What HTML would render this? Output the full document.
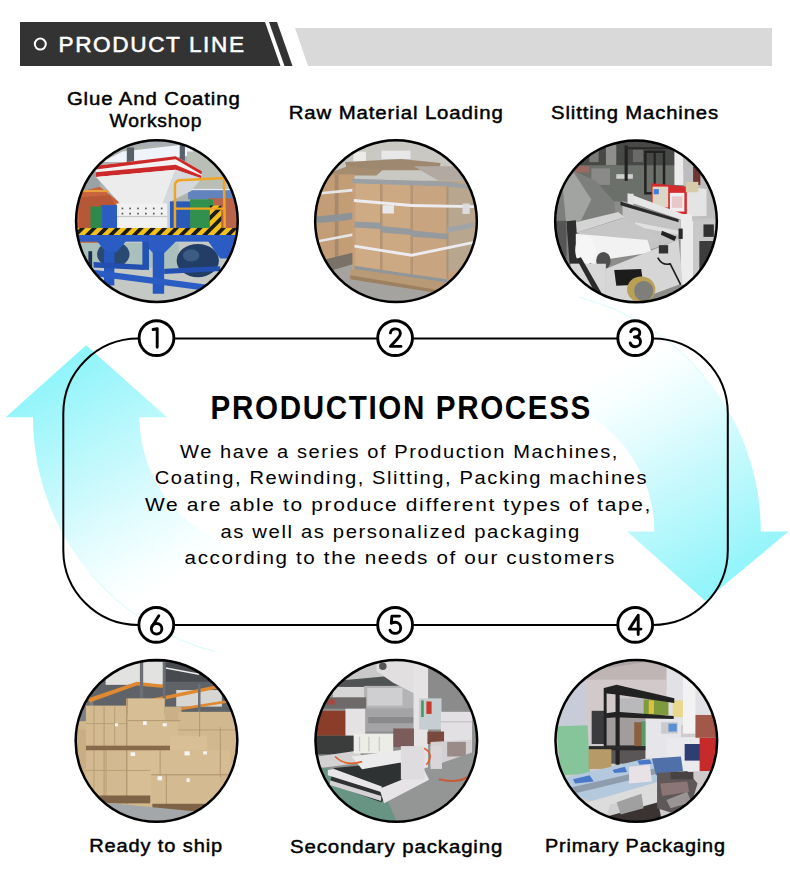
<!DOCTYPE html>
<html><head><meta charset="utf-8">
<style>
html,body{margin:0;padding:0;background:#fff;}
body{width:790px;height:892px;position:relative;overflow:hidden;font-family:"Liberation Sans",sans-serif;}
svg{position:absolute;left:0;top:0;}
</style></head>
<body>
<svg width="790" height="892" viewBox="0 0 790 892">
<defs>
  <linearGradient id="gl" gradientUnits="userSpaceOnUse" x1="86" y1="350" x2="205" y2="565">
    <stop offset="0" stop-color="#8ef5fb"/>
    <stop offset="0.08" stop-color="#97f5fa"/>
    <stop offset="0.35" stop-color="#b8f8fc"/>
    <stop offset="0.48" stop-color="#c8f9fc"/>
    <stop offset="0.7" stop-color="#e3fcfe"/>
    <stop offset="0.9" stop-color="#f8ffff"/>
    <stop offset="1" stop-color="#ffffff"/>
  </linearGradient>
  <linearGradient id="gr" gradientUnits="userSpaceOnUse" x1="708" y1="598.9" x2="589" y2="383.9">
    <stop offset="0" stop-color="#8ef5fb"/>
    <stop offset="0.08" stop-color="#97f5fa"/>
    <stop offset="0.35" stop-color="#b8f8fc"/>
    <stop offset="0.48" stop-color="#c8f9fc"/>
    <stop offset="0.7" stop-color="#e3fcfe"/>
    <stop offset="0.9" stop-color="#f8ffff"/>
    <stop offset="1" stop-color="#ffffff"/>
  </linearGradient>
  <filter id="bl" x="-5%" y="-5%" width="110%" height="110%"><feGaussianBlur stdDeviation="3"/></filter>
  <clipPath id="cc"><circle cx="395" cy="395" r="390"/></clipPath>
  <pattern id="hz" width="40" height="40" patternUnits="userSpaceOnUse" patternTransform="rotate(45)">
    <rect width="40" height="40" fill="#f2c21e"/><rect width="18" height="40" fill="#1a1a1a"/>
  </pattern>
</defs>
<!-- header -->
<polygon points="20,22 265,22 280.5,66 20,66" fill="#333333"/>
<polygon points="269,22 277,22 292.5,66 284.5,66" fill="#333333"/>
<polygon points="295,28 772,28 772,66 308,66" fill="#d9d9d9"/>
<circle cx="40.3" cy="44.1" r="5.5" fill="none" stroke="#fff" stroke-width="2"/>
<text x="58.5" y="52.3" font-size="22.6" fill="#fff" stroke="#fff" stroke-width="0.55" textLength="185.5" lengthAdjust="spacing">PRODUCT LINE</text>

<!-- arrows -->
<path id="arL" d="M86.1,345.3 L167,417.3 L139.4,417.3 A135.6,135.6 0 0 0 275,552.9 L275,659.3 A242,242 0 0 1 33,417.3 L5.7,417.3 Z" fill="url(#gl)"/>
<path d="M705.2,601.1 L627.1,531.6 L654.4,531.6 A135.4,135.4 0 0 0 519,396.2 L519,289.8 A241.8,241.8 0 0 1 760.8,531.6 L788.4,531.6 Z" fill="url(#gr)"/>

<path d="M215,651.7 A242,242 0 0 1 90,573" fill="none" stroke="#d6fbfd" stroke-width="1"/>
<path d="M579,297.2 A241.8,241.8 0 0 1 704,376" fill="none" stroke="#d6fbfd" stroke-width="1"/>
<!-- path -->
<rect x="63.3" y="338.5" width="664.5" height="286.4" rx="75" ry="75" fill="none" stroke="#000" stroke-width="2"/>

<!-- number circles -->
<g fill="#fff" stroke="#000" stroke-width="2.9">
<circle cx="156.5" cy="338.1" r="17.4"/>
<circle cx="395.1" cy="338.1" r="17.4"/>
<circle cx="635.2" cy="338.1" r="17.4"/>
<circle cx="156.3" cy="624.9" r="17.4"/>
<circle cx="395.1" cy="624.9" r="17.4"/>
<circle cx="635.2" cy="624.9" r="17.4"/>
</g>
<g fill="none" stroke="#000" stroke-width="2.9" stroke-linecap="round" stroke-linejoin="round">
<path transform="translate(156.5,338.1)" d="M-3.4,-8.6 L0.7,-9.3 L0.7,9.2"/>
<path transform="translate(395.1,338.1)" d="M-4.7,-5.2 C-4.2,-8.2 -1.5,-9.2 0.4,-9.2 C3.2,-9.2 5.3,-7.3 5.3,-4.6 C5.3,-2.6 4,-1.2 2.6,0.3 L-4.7,8.3 L5.9,8.3"/>
<path transform="translate(635.2,338.1)" d="M-4.5,-6.4 C-3.8,-8.4 -2,-9.4 0,-9.4 C2.8,-9.4 4.6,-7.6 4.6,-5.3 C4.6,-2.8 2.6,-1.1 -0.8,-1.1 C3,-1.1 5.3,0.8 5.3,3.6 C5.3,6.5 3,8.6 0,8.6 C-2.4,8.6 -4.3,7.3 -5,4.9"/>
<path transform="translate(635.2,624.9)" d="M3,9.6 L3,-9.6 L-6,4.2 L5.8,4.2"/>
<path transform="translate(395.1,624.9)" d="M4.4,-8.8 L-3.2,-8.8 L-3.8,-1.6 C-2.8,-2.3 -1.3,-2.6 0,-2.6 C3.3,-2.6 5.6,-0.2 5.6,3 C5.6,6.2 3.1,8.5 0,8.5 C-2.3,8.5 -4.3,7.2 -5.1,5.3"/>
<path transform="translate(156.3,624.9)" d="M2.5,-9.1 L-4.3,1.6"/>
<circle transform="translate(156.3,624.9)" cx="0.3" cy="3.9" r="5.3"/>
</g>

<!-- photo circles -->
<g transform="translate(74.9,139.1) scale(0.207595)">
<g clip-path="url(#cc)"><g filter="url(#bl)"><rect width="790" height="790" fill="#c8ccd0"/>
<!-- ceiling / building -->
<rect x="0" y="0" width="790" height="300" fill="#a9b0b5"/>
<polygon points="100,40 790,20 790,300 0,300 0,150" fill="#aeb3ad"/>
<polygon points="130,110 230,60 540,25 570,60 560,80 240,110" fill="#eef4fa"/>
<rect x="250" y="40" width="35" height="75" fill="#59606a"/>
<rect x="505" y="25" width="25" height="80" fill="#59606a"/>
<rect x="540" y="60" width="250" height="190" fill="#b9bfb6"/>
<rect x="545" y="245" width="245" height="45" fill="#6383bd"/><rect x="545" y="240" width="245" height="6" fill="#e8ecf0"/>
<rect x="0" y="150" width="120" height="130" fill="#9aa2a6"/>
<!-- left orange machinery -->
<polygon points="0,260 120,230 210,300 215,430 200,500 0,500" fill="#c9643c"/>
<polygon points="20,280 170,270 200,330 190,430 20,430" fill="#b65838"/>
<rect x="40" y="245" width="150" height="10" fill="#e8a040"/>
<!-- right orange background -->
<rect x="640" y="285" width="150" height="160" fill="#b8654c"/>
<!-- hopper rim -->
<polygon points="100,128 485,83 612,155 610,190 485,150 100,185" fill="#f2f2f2"/>
<polygon points="102,128 485,83 612,155 610,170 485,97 102,146" fill="#cc2a2a"/>
<polygon points="100,160 485,124 610,176 608,190 485,148 100,183" fill="#cc2a2a"/>
<polygon points="102,182 485,148 420,320 228,322" fill="#ececec"/>
<polygon points="485,148 610,188 560,250 420,320" fill="#d6d9dc"/>
<!-- machine body -->
<rect x="200" y="310" width="245" height="125" fill="#f1f1f1"/>
<rect x="200" y="370" width="245" height="6" fill="#c8c8c8"/>
<g fill="#555">
<rect x="225" y="330" width="8" height="8"/><rect x="262" y="330" width="8" height="8"/><rect x="300" y="330" width="8" height="8"/><rect x="338" y="330" width="8" height="8"/><rect x="376" y="330" width="8" height="8"/><rect x="414" y="330" width="8" height="8"/>
<rect x="225" y="355" width="8" height="8"/><rect x="262" y="355" width="8" height="8"/><rect x="300" y="355" width="8" height="8"/><rect x="338" y="355" width="8" height="8"/><rect x="376" y="355" width="8" height="8"/><rect x="414" y="355" width="8" height="8"/>
</g>
<rect x="125" y="318" width="78" height="115" fill="#2c5cc2"/>
<rect x="458" y="300" width="100" height="135" fill="#2b5ab8"/>
<rect x="75" y="325" width="55" height="108" fill="#2f8a4b"/>
<rect x="555" y="290" width="110" height="145" fill="#30904f"/>
<rect x="650" y="320" width="55" height="120" fill="url(#hz)"/>
<!-- railing -->
<path d="M482,440 L482,225 Q482,200 505,198 L718,188 L722,440" fill="none" stroke="#f0a523" stroke-width="12"/>
<path d="M482,335 L720,335" fill="none" stroke="#f0a523" stroke-width="10"/>
<!-- hazard band -->
<rect x="0" y="428" width="790" height="40" fill="url(#hz)"/>
<!-- floor -->
<rect x="0" y="500" width="790" height="290" fill="#c5c9c6"/>
<rect x="0" y="500" width="500" height="120" fill="#a9c0bc"/>
<!-- motors -->
<ellipse cx="185" cy="555" rx="78" ry="62" fill="#2b4a72"/>
<ellipse cx="592" cy="585" rx="102" ry="80" fill="#243e66"/>
<ellipse cx="560" cy="560" rx="40" ry="30" fill="#3a5a84"/>
<!-- blue frame -->
<rect x="10" y="462" width="780" height="32" fill="#2a5cc4"/>
<polygon points="105,490 248,490 200,545 150,545" fill="#2a5cc4"/>
<polygon points="320,490 490,490 432,548 375,548" fill="#2a5cc4"/>
<polygon points="640,490 790,490 748,575 700,575" fill="#2a5cc4"/>
<rect x="140" y="540" width="50" height="165" fill="#2858c0"/>
<rect x="375" y="540" width="55" height="205" fill="#2858c0"/>
<rect x="325" y="495" width="32" height="135" fill="#2352b0"/>
<polygon points="90,592 330,605 330,630 90,618" fill="#2350b0"/>
<polygon points="80,628 640,702 640,732 80,658" fill="#2a5cc4"/>
<polygon points="430,625 700,612 700,635 430,650" fill="#2350b0"/>
<rect x="65" y="540" width="18" height="80" fill="#1e2e50"/>
</g></g>
<circle cx="395" cy="395" r="389.5" fill="none" stroke="#000" stroke-width="12"/>
</g>
<g transform="translate(314.0,139.2) scale(0.207595)">
<g clip-path="url(#cc)"><g filter="url(#bl)"><rect width="790" height="790" fill="#b8a58a"/>
<rect x="0" y="0" width="790" height="200" fill="#c9c8c3"/>
<rect x="190" y="60" width="60" height="50" fill="#ecebea"/>
<rect x="325" y="55" width="140" height="40" fill="#e8e8e8"/>
<rect x="0" y="590" width="790" height="200" fill="#a4a3a0"/>
<!-- top cardboard -->
<polygon points="150,110 420,95 610,115 600,150 160,150" fill="#9e8870"/>
<polygon points="80,160 160,130 330,150 300,175 90,175" fill="#a58d72"/>
<polygon points="480,130 700,130 760,200 600,200" fill="#b2aaa2"/>
<!-- left back cylinders -->
<rect x="10" y="170" width="185" height="420" fill="#c39d76"/>
<rect x="100" y="170" width="18" height="400" fill="#a9896a"/>
<polygon points="10,372 120,362 195,352 195,385 120,395 10,405" fill="#8e9397"/>
<polygon points="20,255 195,238 195,252 20,268" fill="#e6e6e6"/>
<polygon points="20,485 195,452 195,465 20,498" fill="#e6e6e6"/>
<polygon points="10,590 195,545 195,600 60,640" fill="#7a7268"/>
<!-- front cylinders -->
<polygon points="185,195 650,210 760,230 770,640 650,680 185,640" fill="#c6a07a"/>
<rect x="200" y="200" width="120" height="430" fill="#cfab85"/>
<rect x="330" y="210" width="135" height="440" fill="#cca883"/>
<rect x="475" y="220" width="165" height="460" fill="#c9a480"/>
<rect x="645" y="215" width="125" height="420" fill="#b9a68f"/>
<rect x="318" y="205" width="12" height="450" fill="#b39474"/>
<rect x="465" y="215" width="12" height="460" fill="#b39474"/>
<rect x="638" y="215" width="10" height="460" fill="#ab9478"/>
<!-- tops rims -->
<polygon points="185,190 650,205 760,225 760,240 650,228 185,212" fill="#9aa0a3"/>
<!-- silver bands -->
<polygon points="195,396 322,402 322,432 195,425" fill="#949a9e"/>
<polygon points="322,418 470,432 470,462 322,450" fill="#949a9e"/>
<polygon points="470,440 640,455 640,482 470,470" fill="#949a9e"/>
<polygon points="640,425 770,400 770,425 640,452" fill="#a0a4a6"/>
<!-- straps -->
<polygon points="192,288 470,312 770,318 770,332 470,326 192,302" fill="#ececf0"/>
<polygon points="195,508 470,552 770,490 770,504 470,566 195,522" fill="#ececf0"/>
<rect x="330" y="318" width="55" height="40" fill="#e8e8ea"/>
<rect x="715" y="310" width="35" height="50" fill="#dcdcde"/>
<!-- bottom rims -->
<polygon points="195,610 330,630 470,650 640,675 640,690 470,668 330,650 195,630" fill="#8f9599"/>
<!-- pallet -->
<polygon points="175,630 195,625 470,665 640,690 620,745 175,665" fill="#b99a76"/>
<polygon points="175,655 620,730 615,745 175,675" fill="#9c805f"/>
</g></g>
<circle cx="395" cy="395" r="389.5" fill="none" stroke="#000" stroke-width="12"/>
</g>
<g transform="translate(554.0,139.3) scale(0.207595)">
<g clip-path="url(#cc)"><g filter="url(#bl)"><rect width="790" height="790" fill="#9a9a9a"/>
<rect x="0" y="0" width="790" height="790" fill="#8c8d8b"/>
<!-- top background -->
<rect x="0" y="0" width="790" height="150" fill="#474847"/>
<rect x="250" y="25" width="50" height="100" fill="#8e8e8c"/>
<rect x="170" y="40" width="45" height="70" fill="#7a7a78"/>
<rect x="380" y="50" width="50" height="60" fill="#6a6a68"/>
<rect x="0" y="125" width="600" height="175" fill="#6c6f6a"/>
<rect x="90" y="130" width="80" height="30" fill="#9a6a62"/>
<rect x="180" y="140" width="90" height="80" fill="#8a8a88"/>
<rect x="300" y="168" width="80" height="22" fill="#cfcfcf"/>
<rect x="340" y="30" width="15" height="170" fill="#222"/>
<rect x="440" y="60" width="90" height="200" fill="none" stroke="#232323" stroke-width="12"/>
<rect x="480" y="60" width="10" height="200" fill="#232323"/>
<rect x="345" y="38" width="240" height="10" fill="#2a2a2a"/>
<rect x="580" y="55" width="45" height="165" fill="#ebebeb"/>
<rect x="625" y="80" width="165" height="320" fill="#bdbdbd"/>
<rect x="670" y="130" width="35" height="90" fill="#6e3434"/>
<!-- left plastic -->
<polygon points="0,170 90,150 200,200 290,300 300,400 240,560 0,600" fill="#7d7f7d"/>
<polygon points="40,210 95,160 180,290 130,390 60,420" fill="#a2a4a2"/>
<!-- red control box -->
<polygon points="470,212 645,228 645,378 470,320" fill="#d52a2e"/>
<rect x="475" y="228" width="75" height="100" fill="#ddd6c4"/>
<rect x="480" y="240" width="25" height="25" fill="#3f7fd8"/>
<rect x="558" y="258" width="70" height="90" fill="#efefef"/>
<rect x="568" y="275" width="50" height="55" fill="#e7c7c7"/>
<polygon points="640,230 735,240 735,370 640,372" fill="#e4e4e4"/>
<rect x="635" y="205" width="60" height="50" fill="#d6ccab"/>
<!-- white frame -->
<polygon points="355,260 620,360 620,390 355,300" fill="#e6e6e6"/>
<rect x="355" y="262" width="28" height="230" fill="#e2e2e2"/>
<rect x="610" y="360" width="55" height="340" fill="#ececec"/>
<!-- right side -->
<rect x="665" y="380" width="125" height="330" fill="#c5c5c5"/>
<rect x="700" y="520" width="90" height="130" fill="#3a3a3a"/>
<!-- rollers -->
<polygon points="330,300 610,390 610,480 470,530 330,470" fill="#c4c4c4"/>
<polygon points="320,300 600,385 600,400 320,318" fill="#2a2a2a"/>
<polygon points="390,400 600,440 600,460 390,420" fill="#e0e0e0"/>
<polygon points="60,410 310,350 340,375 110,450" fill="#d4d4d4"/>
<polygon points="110,450 330,380 420,420 520,480 400,520 240,520" fill="#c6c6c6"/>
<polygon points="60,395 105,390 120,600 75,600" fill="#2e2e2e"/>
<rect x="0" y="393" width="60" height="200" fill="#555"/>
<!-- white roll -->
<polygon points="105,455 450,485 470,545 240,580 200,620 105,520" fill="#f2f2f2"/>
<ellipse cx="150" cy="535" rx="48" ry="70" fill="#f6f6f6"/>
<ellipse cx="238" cy="585" rx="35" ry="42" fill="#505050"/>
<!-- machine side plate -->
<polygon points="250,623 600,483 620,693 360,790 250,790" fill="#d6d6d6"/>
<polygon points="80,600 250,600 250,790 80,790" fill="#d8d8d8"/>
<polygon points="108,575 130,568 240,760 215,770" fill="#2a2a2a"/>
<polygon points="520,440 590,470 580,490 515,460" fill="#222"/>
<polygon points="600,430 660,430 660,480 600,480" fill="#2a2a2a"/>
<path d="M500,570 Q520,610 560,600 L610,700" fill="none" stroke="#1e1e1e" stroke-width="8"/>
<rect x="505" y="510" width="45" height="40" fill="#333"/>
<!-- right post -->
<rect x="620" y="393" width="50" height="310" fill="#ececec"/>
<rect x="670" y="393" width="120" height="300" fill="#c8c8c8"/>
<rect x="700" y="490" width="90" height="150" fill="#3c3c3c"/>
<rect x="720" y="410" width="50" height="60" fill="#333"/>
<!-- gear + wheel -->
<polygon points="290,630 420,625 430,700 300,705" fill="#1e1e1e"/>
<ellipse cx="420" cy="723" rx="68" ry="62" fill="#b9a055"/>
<ellipse cx="432" cy="730" rx="46" ry="48" fill="#7e7e7c"/>
</g></g>
<circle cx="395" cy="395" r="389.5" fill="none" stroke="#000" stroke-width="12"/>
</g>
<g transform="translate(74.5,658.9) scale(0.207595)">
<g clip-path="url(#cc)"><g filter="url(#bl)"><rect width="790" height="790" fill="#c8b28e"/>
<rect x="0" y="0" width="790" height="790" fill="#d0b68c"/>
<!-- ceiling -->
<rect x="0" y="0" width="790" height="270" fill="#5f6367"/>
<rect x="150" y="15" width="280" height="110" fill="#e2e2e0"/>
<rect x="430" y="20" width="250" height="90" fill="#474b50"/>
<polygon points="440,40 600,70 600,78 440,48" fill="#f0f0f0"/>
<rect x="490" y="150" width="220" height="80" fill="#d8d6d2"/>
<rect x="0" y="200" width="90" height="100" fill="#7c8084"/>
<!-- orange shelves -->
<polygon points="50,195 300,110 430,125 430,140 300,128 60,215" fill="#df8a32"/>
<polygon points="380,190 680,128 690,142 390,205" fill="#df8a32"/>
<polygon points="490,238 740,198 745,210 495,250" fill="#df8a32"/>
<rect x="315" y="10" width="16" height="190" fill="#6c7074"/>
<rect x="425" y="10" width="14" height="200" fill="#6c7074"/>
<rect x="595" y="120" width="12" height="150" fill="#6c7074"/>
<rect x="60" y="200" width="12" height="80" fill="#6c7074"/>
<!-- boxes -->
<rect x="55" y="225" width="200" height="195" fill="#d4ba90"/>
<rect x="255" y="190" width="180" height="230" fill="#d8be94"/>
<rect x="435" y="230" width="80" height="180" fill="#cbb087"/>
<rect x="255" y="300" width="260" height="120" fill="#d6bc92"/>
<rect x="500" y="255" width="290" height="185" fill="#d2b88e"/>
<rect x="460" y="370" width="180" height="70" fill="#d9bf95"/>
<rect x="0" y="340" width="55" height="220" fill="#c9ae84"/>
<rect x="55" y="440" width="200" height="220" fill="#d3b98f"/>
<rect x="250" y="440" width="160" height="260" fill="#d8be94"/>
<rect x="410" y="440" width="340" height="120" fill="#d6bc92"/>
<rect x="370" y="560" width="330" height="150" fill="#d4ba90"/>
<!-- box seams -->
<g fill="#b39a72">
<rect x="92" y="225" width="4" height="435"/><rect x="140" y="225" width="5" height="435"/><rect x="192" y="225" width="4" height="195"/>
<rect x="248" y="190" width="7" height="510"/><rect x="150" y="440" width="4" height="220"/>
<rect x="55" y="310" width="200" height="4"/><rect x="255" y="295" width="255" height="5"/>
<rect x="55" y="535" width="310" height="4"/><rect x="410" y="440" width="5" height="120"/>
<rect x="370" y="555" width="380" height="6"/><rect x="440" y="560" width="5" height="150"/>
<rect x="600" y="255" width="5" height="120"/><rect x="700" y="330" width="5" height="240"/>
<rect x="500" y="340" width="290" height="4"/>
</g>
<!-- pallets -->
<rect x="55" y="418" width="405" height="22" fill="#866a4a"/>
<rect x="120" y="658" width="245" height="38" fill="#7e6446"/>
<rect x="375" y="698" width="260" height="36" fill="#7e6446"/>
<!-- labels -->
<g fill="#f4f4f4">
<rect x="330" y="300" width="18" height="18"/><rect x="425" y="310" width="20" height="15"/>
<rect x="270" y="450" width="22" height="18"/><rect x="530" y="445" width="25" height="20"/>
<rect x="400" y="565" width="22" height="20"/><rect x="540" y="575" width="15" height="18"/>
<rect x="620" y="445" width="18" height="15"/><rect x="195" y="310" width="15" height="15"/>
</g>
<!-- floor -->
<polygon points="130,690 375,715 640,740 790,700 790,790 0,790 0,650" fill="#a3a7aa"/>
</g></g>
<circle cx="395" cy="395" r="389.5" fill="none" stroke="#000" stroke-width="12"/>
</g>
<g transform="translate(314.3,658.9) scale(0.207595)">
<g clip-path="url(#cc)"><g filter="url(#bl)"><rect width="790" height="790" fill="#a8a8a8"/>
<rect x="0" y="0" width="790" height="790" fill="#8e908f"/>
<rect x="540" y="0" width="250" height="250" fill="#8b8b8c"/>
<rect x="0" y="0" width="300" height="150" fill="#6e7070"/>
<rect x="40" y="150" width="220" height="90" fill="#9a9a9a"/>
<!-- film rollers top -->
<polygon points="100,60 380,5 490,20 490,100 120,120" fill="#c9c9c9"/>
<polygon points="110,105 480,72 480,125 125,145" fill="#4f5252"/>
<rect x="240" y="130" width="245" height="110" fill="#b4b4b6"/>
<rect x="255" y="140" width="170" height="85" fill="#cfcfd1"/>
<rect x="90" y="135" width="150" height="55" fill="#d6d6d6"/>
<rect x="40" y="185" width="210" height="55" fill="#6e6a6a"/>
<rect x="60" y="195" width="40" height="25" fill="#a04a44"/>
<rect x="240" y="240" width="245" height="110" fill="#a4a4a6"/>
<rect x="260" y="280" width="220" height="30" fill="#8a8a8c"/>
<!-- white arm + column -->
<polygon points="300,10 540,15 545,160 490,170 380,115 300,60" fill="#e2dfe0"/>
<circle cx="330" cy="35" r="18" fill="#555"/>
<rect x="478" y="20" width="70" height="600" fill="#e6e3e5"/>
<!-- left -->
<rect x="10" y="250" width="145" height="120" fill="#8c3e2a"/>
<rect x="150" y="240" width="95" height="130" fill="#e4e2e2"/>
<rect x="0" y="370" width="190" height="90" fill="#3b3d3d"/>
<polygon points="20,470 220,440 230,500 30,525" fill="#d2d2d2"/>
<!-- control box -->
<rect x="505" y="190" width="108" height="150" fill="#c6ced2"/>
<rect x="515" y="200" width="12" height="80" fill="#3c9a5a"/>
<rect x="540" y="205" width="25" height="60" fill="#c83a2a"/>
<!-- right tunnel -->
<rect x="610" y="255" width="150" height="145" fill="#e2e0e2"/>
<rect x="610" y="300" width="150" height="6" fill="#c4c2c4"/>
<rect x="545" y="350" width="80" height="60" fill="#7a4a3e"/>
<polygon points="560,400 760,390 760,460 640,520 560,520" fill="#d4d0d2"/>
<rect x="640" y="400" width="90" height="70" fill="#9a8a88"/>
<rect x="380" y="335" width="100" height="90" fill="#7c5c5a"/>
<!-- tapes -->
<rect x="190" y="360" width="190" height="95" fill="#edede8"/>
<rect x="215" y="375" width="6" height="70" fill="#c8c8c0"/><rect x="260" y="375" width="6" height="70" fill="#c8c8c0"/><rect x="310" y="375" width="6" height="70" fill="#c8c8c0"/>
<!-- floor -->
<polygon points="0,520 380,560 560,520 790,440 790,790 0,790" fill="#939695"/>
<polygon points="0,520 300,560 400,790 0,790" fill="#679483"/>
<!-- platform -->
<polygon points="95,525 420,495 420,600 322,690 73,600" fill="#2f3131"/>
<polygon points="65,535 95,530 325,615 325,642 65,560" fill="#e8e6e8"/>
<polygon points="75,585 322,660 322,685 75,608" fill="#d4d2d4"/>
<polygon points="180,470 470,432 500,500 410,500 230,532" fill="#ecebeb"/>
<polygon points="314,626 531,538 553,582 336,695" fill="#e6e4e6"/>
<rect x="417" y="420" width="114" height="160" fill="#dedcde"/>
<rect x="560" y="420" width="55" height="110" fill="#d8d6d8"/>
<!-- cables -->
<path d="M100,470 Q150,520 230,495" fill="none" stroke="#e0602a" stroke-width="8"/>
<path d="M530,430 Q580,460 540,510" fill="none" stroke="#e0602a" stroke-width="8"/>
<path d="M600,580 Q680,600 740,570" fill="none" stroke="#c85a38" stroke-width="10"/>
</g></g>
<circle cx="395" cy="395" r="389.5" fill="none" stroke="#000" stroke-width="12"/>
</g>
<g transform="translate(554.3,658.9) scale(0.207595)">
<g clip-path="url(#cc)"><g filter="url(#bl)"><rect width="790" height="790" fill="#b0b8c0"/>
<rect x="0" y="0" width="790" height="790" fill="#cfcbcc"/>
<rect x="0" y="0" width="560" height="150" fill="#aea6a6"/>
<polygon points="150,60 540,0 540,120 380,140 150,120" fill="#bfb5b4"/>
<rect x="0" y="100" width="155" height="240" fill="#c8ccd8"/>
<rect x="150" y="100" width="390" height="200" fill="#d2caca"/>
<rect x="540" y="40" width="250" height="280" fill="#e2e2e6"/>
<rect x="620" y="90" width="60" height="270" fill="#f2f2f2"/>
<rect x="570" y="200" width="50" height="80" fill="#e8d890"/>
<!-- shelf items -->
<rect x="310" y="190" width="120" height="75" fill="#b9b9bb"/>
<rect x="430" y="195" width="120" height="75" fill="#7f9a3c"/>
<rect x="455" y="200" width="25" height="65" fill="#d8c040"/>
<rect x="180" y="250" width="70" height="160" fill="#3a3a3c"/>
<rect x="250" y="285" width="190" height="130" fill="#a29c9c"/><rect x="250" y="415" width="190" height="90" fill="#5a5456"/>
<rect x="385" y="305" width="40" height="120" fill="#8a6040"/><rect x="420" y="300" width="22" height="120" fill="#5a9a6a"/>
<!-- black shelf -->
<polygon points="240,140 300,125 578,190 578,212 300,172 240,165" fill="#222"/>
<polygon points="250,262 300,255 575,275 575,290 300,282 250,285" fill="#222"/>
<rect x="238" y="140" width="14" height="340" fill="#222"/>
<rect x="295" y="130" width="20" height="380" fill="#222"/>
<rect x="165" y="420" width="280" height="20" fill="#2a2a2a"/>
<!-- green board -->
<polygon points="10,325 160,320 172,555 30,560" fill="#86c49a"/>
<rect x="165" y="435" width="110" height="95" fill="#b69a68"/>
<!-- machine -->
<rect x="440" y="290" width="170" height="190" fill="#e6e6ea"/>
<rect x="515" y="305" width="80" height="55" fill="#c9c9ce"/>
<rect x="550" y="312" width="40" height="38" fill="#5c8ed2"/>
<polygon points="540,380 700,375 715,540 540,545" fill="#e9e9ee"/>
<rect x="628" y="410" width="80" height="80" fill="#2d3c72"/>
<rect x="700" y="380" width="90" height="160" fill="#c72b2b"/>
<rect x="680" y="270" width="110" height="110" fill="#a2584a"/>
<!-- conveyor -->
<polygon points="40,575 440,480 560,520 560,600 220,700 80,650" fill="#b4c8de"/>
<polygon points="80,620 520,520 530,545 90,650" fill="#8f9cac"/>
<polygon points="90,580 170,560 190,590 100,600" fill="#4a78c8"/>
<polygon points="280,535 340,520 350,545 290,550" fill="#4a78c8"/>
<polygon points="400,490 460,485 470,505 410,510" fill="#4a78c8"/>
<polygon points="360,520 460,510 470,590 360,600" fill="#e8e2e6"/>
<polygon points="470,480 610,470 620,540 490,560" fill="#5070a8"/>
<!-- bottom -->
<polygon points="160,690 560,575 560,680 250,790 160,790" fill="#dcdcdc"/>
<polygon points="270,700 360,690 420,670 380,790 240,790" fill="#cfcfcf"/>
<polygon points="250,760 500,690 520,790 260,790" fill="#3a3030"/>
<polygon points="495,550 640,540 690,600 660,700 560,740 495,720" fill="#5f5858"/>
<polygon points="510,600 640,590 650,640 520,660" fill="#8c7474"/><polygon points="540,680 640,640 660,690 560,720" fill="#9a9494"/>
<rect x="560" y="545" width="110" height="35" fill="#4a4242"/>
<polygon points="300,690 420,650 430,720 320,750" fill="#a0a0a0"/>
</g></g>
<circle cx="395" cy="395" r="389.5" fill="none" stroke="#000" stroke-width="12"/>
</g>

<!-- titles -->
<g font-weight="bold" fill="#000">
<text x="210.6" y="418.8" font-size="32.6" letter-spacing="1.8" textLength="381.4" lengthAdjust="spacingAndGlyphs">PRODUCTION PROCESS</text>
</g>
<g font-size="18.9" fill="#000" letter-spacing="1.5">
<text x="180.0" y="457.8" textLength="439.0" lengthAdjust="spacingAndGlyphs">We have a series of Production Machines,</text>
<text x="154.7" y="484" textLength="493.4" lengthAdjust="spacingAndGlyphs">Coating, Rewinding, Slitting, Packing machines</text>
<text x="145.1" y="511" textLength="506.9" lengthAdjust="spacingAndGlyphs">We are able to produce different types of tape,</text>
<text x="220.5" y="537.5" textLength="360.5" lengthAdjust="spacingAndGlyphs">as well as personalized packaging</text>
<text x="184.6" y="564" textLength="431.4" lengthAdjust="spacingAndGlyphs">according to the needs of our customers</text>
</g>
<g font-size="18.3" fill="#000" stroke="#000" stroke-width="0.45" letter-spacing="0.8">
<text x="66.9" y="105" textLength="173.8" lengthAdjust="spacingAndGlyphs">Glue And Coating</text>
<text x="109.5" y="127.1" textLength="92.9" lengthAdjust="spacingAndGlyphs">Workshop</text>
<text x="288.7" y="119.2" textLength="215.0" lengthAdjust="spacingAndGlyphs">Raw Material Loading</text>
<text x="551.0" y="119" textLength="168.0" lengthAdjust="spacingAndGlyphs">Slitting Machines</text>
<text x="89.2" y="852.3" textLength="133.8" lengthAdjust="spacingAndGlyphs">Ready to ship</text>
<text x="290.0" y="853" textLength="213.3" lengthAdjust="spacingAndGlyphs">Secondary packaging</text>
<text x="544.9" y="852.3" textLength="181.0" lengthAdjust="spacingAndGlyphs">Primary Packaging</text>
</g>
</svg>
</body></html>
